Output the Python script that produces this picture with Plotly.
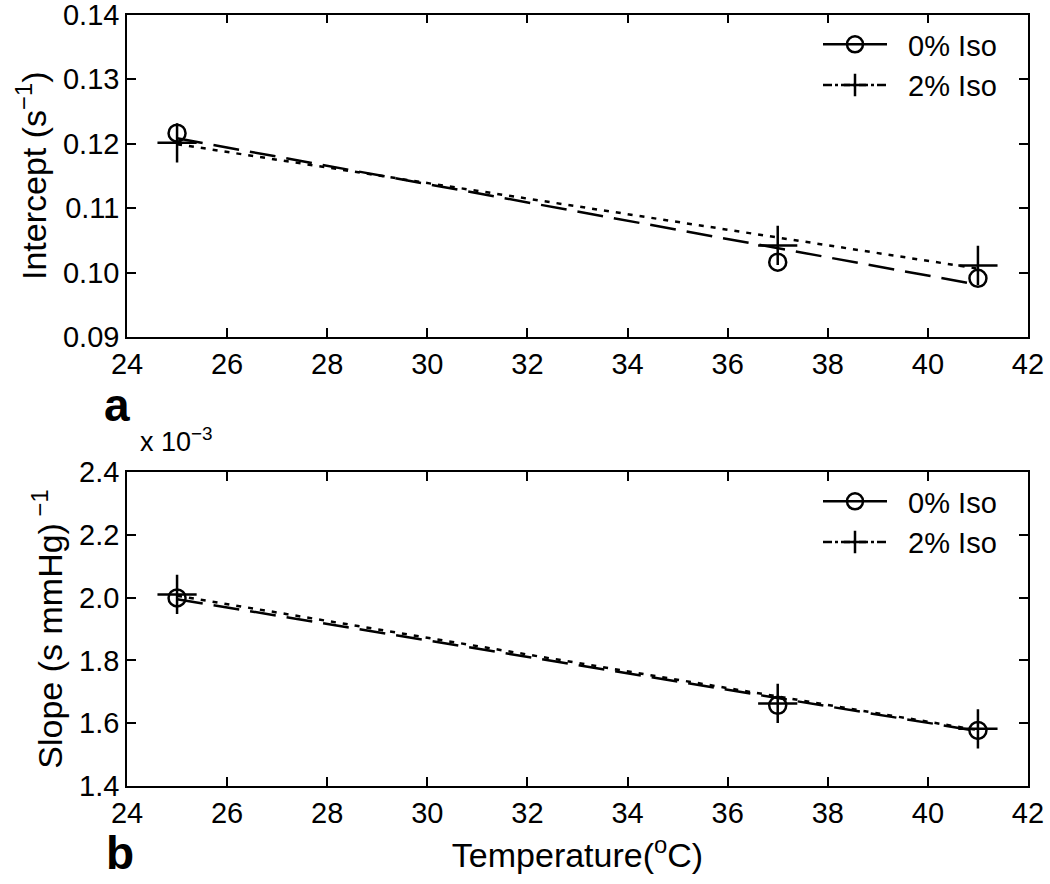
import plotly.graph_objects as go

# ---- data ----
temps = [25, 37, 41]
fit_x = [25, 41]

# Panel a: intercept (s^-1)
intercept_iso0 = [0.1216, 0.1016, 0.0991]
intercept_iso2 = [0.1201, 0.1042, 0.1011]
intercept_fit0 = [0.1208, 0.0981]
intercept_fit2 = [0.1199, 0.1006]

# Panel b: slope (x 10^-3 (s mmHg)^-1)
slope_iso0 = [1.999, 1.657, 1.577]
slope_iso2 = [2.010, 1.663, 1.582]
slope_fit0 = [1.995, 1.575]
slope_fit2 = [2.006, 1.578]

x_ticks = [24, 26, 28, 30, 32, 34, 36, 38, 40, 42]
a_ticks = [0.09, 0.10, 0.11, 0.12, 0.13, 0.14]
b_ticks = [1.4, 1.6, 1.8, 2.0, 2.2, 2.4]

series_names = ["0% Iso", "2% Iso"]

FONT = "Liberation Sans, Arial, Helvetica, sans-serif"
FS = 29
TFS = 34
LW = 2.5
NB = "\u00a0\u00a0"

fig = go.Figure()

def add_panel(xa, ya, legend, iso0, iso2, fit0, fit2):
    # legend proxies
    fig.add_trace(go.Scatter(x=[None], y=[None], mode="lines+markers", name=NB + series_names[0],
                             line=dict(color="black", width=LW, dash="solid"),
                             marker=dict(symbol="circle-open", size=17, color="black", line=dict(width=LW)),
                             xaxis=xa, yaxis=ya, legend=legend))
    fig.add_trace(go.Scatter(x=[None], y=[None], mode="lines+markers", name=NB + series_names[1],
                             line=dict(color="black", width=LW, dash="dashdot"),
                             marker=dict(symbol="cross-thin-open", size=28, color="black", line=dict(width=LW)),
                             xaxis=xa, yaxis=ya, legend=legend))
    # fit lines
    fig.add_trace(go.Scatter(x=fit_x, y=fit0, mode="lines", showlegend=False,
                             line=dict(color="black", width=LW, dash="26px,11px"),
                             xaxis=xa, yaxis=ya))
    fig.add_trace(go.Scatter(x=fit_x, y=fit2, mode="lines", showlegend=False,
                             line=dict(color="black", width=LW, dash="5px,7px"),
                             xaxis=xa, yaxis=ya))
    # data markers
    fig.add_trace(go.Scatter(x=temps, y=iso0, mode="markers", showlegend=False,
                             marker=dict(symbol="circle-open", size=17, color="black", line=dict(width=LW)),
                             xaxis=xa, yaxis=ya))
    fig.add_trace(go.Scatter(x=temps, y=iso2, mode="markers", showlegend=False,
                             marker=dict(symbol="cross-thin-open", size=28, color="black", line=dict(width=LW)),
                             xaxis=xa, yaxis=ya))

add_panel("x", "y", "legend", intercept_iso0, intercept_iso2, intercept_fit0, intercept_fit2)
add_panel("x2", "y2", "legend2", slope_iso0, slope_iso2, slope_fit0, slope_fit2)

W, H = 1050, 884
def fx(px):
    return px / W
def fy(py):
    return 1 - py / H

xdom = [fx(127), fx(1028)]

axis_common = dict(showline=True, linecolor="black", linewidth=1.5, mirror="allticks",
                   ticks="inside", ticklen=9, tickwidth=1.5, tickcolor="black",
                   showgrid=False, zeroline=False, automargin=False,
                   ticklabeloverflow="allow",
                   tickfont=dict(family=FONT, size=FS, color="black"))

fig.update_layout(
    width=W, height=H,
    margin=dict(l=0, r=0, t=0, b=0, pad=0, autoexpand=False),
    paper_bgcolor="white", plot_bgcolor="white",
    font=dict(family=FONT, size=FS, color="black"),
    xaxis=dict(domain=xdom, range=[24, 42.0001], tickvals=x_ticks, anchor="y", **axis_common),
    yaxis=dict(domain=[fy(337), fy(14.5)], range=[0.09, 0.140001], tickvals=a_ticks,
               tickformat=".2f", anchor="x",
               title=dict(text="Intercept (s<sup>−1</sup>)", font=dict(family=FONT, size=TFS), standoff=6),
               **axis_common),
    xaxis2=dict(domain=xdom, range=[24, 42.0001], tickvals=x_ticks, anchor="y2",
                title=dict(text="Temperature(<sup>o</sup>C)", font=dict(family=FONT, size=TFS), standoff=16),
                **axis_common),
    yaxis2=dict(domain=[fy(786), fy(472)], range=[1.4, 2.40001], tickvals=b_ticks,
                tickformat=".1f", anchor="x2",
                title=dict(text="Slope (s mmHg)<sup> −1</sup>", font=dict(family=FONT, size=TFS), standoff=6),
                **axis_common),
    legend=dict(x=fx(818), y=fy(19), xanchor="left", yanchor="top",
                bgcolor="rgba(0,0,0,0)", font=dict(family=FONT, size=FS), itemwidth=64,
                tracegroupgap=0),
    legend2=dict(x=fx(818), y=fy(476), xanchor="left", yanchor="top",
                 bgcolor="rgba(0,0,0,0)", font=dict(family=FONT, size=FS), itemwidth=64,
                 tracegroupgap=0),
    annotations=[
        dict(text="<b>a</b>", x=fx(102), y=fy(405), xref="paper", yref="paper",
             showarrow=False, font=dict(family=FONT, size=46, color="black")),
        dict(text="<b>b</b>", x=fx(104), y=fy(825), xref="paper", yref="paper", yanchor="top",
             showarrow=False, font=dict(family=FONT, size=46, color="black")),
        dict(text="x 10<sup>−3</sup>", x=fx(138), y=fy(440), xref="paper", yref="paper",
             xanchor="left", showarrow=False, font=dict(family=FONT, size=27, color="black")),
    ],
)

fig.write_html("out.html", config={"displayModeBar": False},
               post_script="document.body.style.margin='0px';document.body.style.overflow='hidden';")
